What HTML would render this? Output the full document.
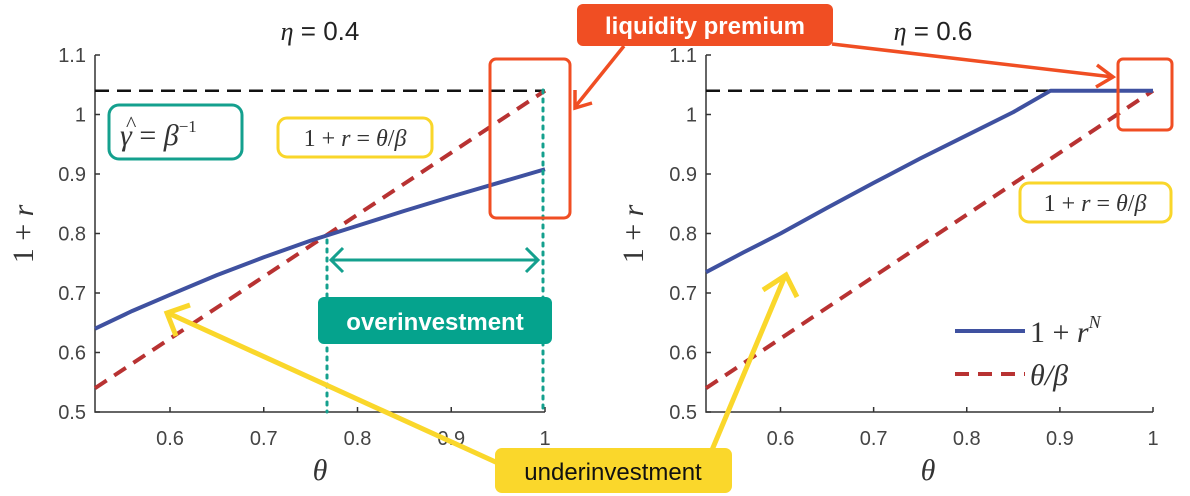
<!DOCTYPE html>
<html><head><meta charset="utf-8"><style>
body{margin:0;background:#fff;}
svg{display:block;}
.tk{font-family:"Liberation Sans",sans-serif;font-size:20px;fill:#444;}
.math{font-family:"Liberation Serif",serif;font-style:italic;}
.lbl{font-family:"Liberation Sans",sans-serif;font-weight:bold;fill:#fff;}
</style></head><body>
<svg id="chart" width="1190" height="496" viewBox="0 0 1190 496" xmlns="http://www.w3.org/2000/svg">
<g id="axes"></g>
<g id="annot">
  <text x="320" y="40" font-size="26" text-anchor="middle" font-family="Liberation Sans,sans-serif" fill="#222"><tspan font-style="italic" font-family="Liberation Serif,serif">η</tspan> = 0.4</text>
  <text x="933" y="40" font-size="26" text-anchor="middle" font-family="Liberation Sans,sans-serif" fill="#222"><tspan font-style="italic" font-family="Liberation Serif,serif">η</tspan> = 0.6</text>
  <text transform="translate(33,234) rotate(-90)" font-size="30" text-anchor="middle" font-family="Liberation Serif,serif" fill="#333">1 + <tspan font-style="italic">r</tspan></text>
  <text transform="translate(643,234) rotate(-90)" font-size="30" text-anchor="middle" font-family="Liberation Serif,serif" fill="#333">1 + <tspan font-style="italic">r</tspan></text>
  <text x="320" y="480" font-size="30" text-anchor="middle" class="math" fill="#333">θ</text>
  <text x="928" y="480" font-size="30" text-anchor="middle" class="math" fill="#333">θ</text>
  <line x1="327" y1="240" x2="327" y2="412" stroke="#14A08E" stroke-width="3" stroke-dasharray="3,6" stroke-linecap="round"/>
  <line x1="543" y1="90" x2="543" y2="412" stroke="#14A08E" stroke-width="3" stroke-dasharray="3,6" stroke-linecap="round"/>
  <g stroke="#14A08E" stroke-width="3" fill="none">
    <line x1="331" y1="260" x2="538" y2="260"/>
    <polyline points="343,248 331,260 343,272"/>
    <polyline points="526,248 538,260 526,272"/>
  </g>
  <rect x="318" y="297" width="234" height="47" rx="6" fill="#05A38D"/>
  <text x="435" y="330" font-size="24" text-anchor="middle" class="lbl">overinvestment</text>
  <rect x="109" y="105" width="133" height="54" rx="10" fill="#fff" stroke="#14A08E" stroke-width="3"/>
  <text x="120" y="145" font-size="30" font-family="Liberation Serif,serif" fill="#333"><tspan font-style="italic">γ</tspan> = <tspan font-style="italic">β</tspan><tspan font-size="17" dy="-13">−1</tspan></text>
  <text x="126" y="131" font-size="22" font-family="Liberation Serif,serif" fill="#333">^</text>
  <rect x="278" y="118" width="154" height="39" rx="9" fill="#fff" stroke="#F9D62A" stroke-width="3"/>
  <text x="355" y="146" font-size="24" text-anchor="middle" font-family="Liberation Serif,serif" fill="#333">1 + <tspan font-style="italic">r</tspan> = <tspan font-style="italic">θ</tspan>/<tspan font-style="italic">β</tspan></text>
  <rect x="1020" y="183" width="151" height="39" rx="9" fill="#fff" stroke="#F9D62A" stroke-width="3"/>
  <text x="1095" y="211" font-size="24" text-anchor="middle" font-family="Liberation Serif,serif" fill="#333">1 + <tspan font-style="italic">r</tspan> = <tspan font-style="italic">θ</tspan>/<tspan font-style="italic">β</tspan></text>
  <rect x="490" y="59" width="80" height="159" rx="6" fill="none" stroke="#F04E23" stroke-width="3"/>
  <rect x="1118" y="59" width="54" height="71" rx="5" fill="none" stroke="#F04E23" stroke-width="3"/>
  <g stroke="#F04E23" stroke-width="3.5" fill="none">
    <line x1="624" y1="46" x2="575" y2="107"/>
    <polyline points="575,90 575,108 592,103"/>
    <line x1="832" y1="44" x2="1113" y2="77"/>
    <polyline points="1097,65 1113,77 1096,87"/>
  </g>
  <rect x="577" y="4" width="256" height="42" rx="6" fill="#F04E23"/>
  <text x="705" y="34" font-size="24" text-anchor="middle" class="lbl">liquidity premium</text>
  <g stroke="#FAD72B" stroke-width="5" fill="none">
    <line x1="500" y1="464" x2="168" y2="313"/>
    <polyline points="190,305 167,313 176,336"/>
    <line x1="712" y1="450" x2="785" y2="276"/>
    <polyline points="763,290 786,275 797,297"/>
  </g>
  <rect x="495" y="448" width="237" height="45" rx="7" fill="#FAD72B"/>
  <text x="613" y="480" font-size="24" text-anchor="middle" font-family="Liberation Sans,sans-serif" fill="#111">underinvestment</text>
  <line x1="955" y1="331" x2="1025" y2="331" stroke="#3F51A0" stroke-width="4"/>
  <text x="1030" y="342" font-size="30" font-family="Liberation Serif,serif" fill="#333">1 + <tspan font-style="italic">r</tspan><tspan font-size="18" dy="-14" font-style="italic">N</tspan></text>
  <line x1="955" y1="374" x2="1025" y2="374" stroke="#B83232" stroke-width="4" stroke-dasharray="14,9"/>
  <text x="1030" y="385" font-size="30" font-family="Liberation Serif,serif" font-style="italic" fill="#333">θ/β</text>
</g>
</svg>
<script>
const xTicks=[0.6,0.7,0.8,0.9,1];
const xTickLabels=["0.6","0.7","0.8","0.9","1"];
const yTicks=[0.5,0.6,0.7,0.8,0.9,1,1.1];
const yTickLabels=["0.5","0.6","0.7","0.8","0.9","1","1.1"];
const thetaLeft=[0.52,0.56,0.6,0.65,0.7,0.75,0.8,0.85,0.9,0.95,1.0];
const blueLeft=[0.64,0.67,0.697,0.73,0.76,0.788,0.813,0.838,0.862,0.885,0.908];
const thetaRight=[0.52,0.56,0.6,0.65,0.7,0.75,0.8,0.85,0.89,0.95,1.0];
const blueRight=[0.735,0.768,0.80,0.843,0.885,0.926,0.965,1.004,1.04,1.04,1.04];
const thetaRed=[0.52,1.0];
const redVals=[0.54,1.04];
const gammaLevel=1.04;
const NS="http://www.w3.org/2000/svg";
const panels=[{x0:95,x1:545,theta:thetaLeft,blue:blueLeft,name:'left'},{x0:706,x1:1153,theta:thetaRight,blue:blueRight,name:'right'}];
const yTop=55,yBot=412,yMin=0.5,yMax=1.1,xMin=0.52,xMax=1.0;
function mk(t,a){const e=document.createElementNS(NS,t);for(const k in a)e.setAttribute(k,a[k]);return e;}
const g=document.getElementById('axes');
const ys=v=>yBot-(v-yMin)/(yMax-yMin)*(yBot-yTop);
panels.forEach(p=>{
  const xs=v=>p.x0+(v-xMin)/(xMax-xMin)*(p.x1-p.x0);
  const ax=mk('path',{d:`M${p.x0},${yTop}V${yBot}H${p.x1}`,stroke:'#333','stroke-width':1.5,fill:'none'});
  
  
  g.appendChild(ax);
  yTicks.forEach((v,i)=>{
    const y=ys(v);
    g.appendChild(mk('line',{x1:p.x0,x2:p.x0+5,y1:y,y2:y,stroke:'#333','stroke-width':1.5}));
    const t=mk('text',{x:p.x0-9,y:y+7,'text-anchor':'end',class:'tk'});
    t.textContent=yTickLabels[i];
    
    
    g.appendChild(t);
  });
  xTicks.forEach((v,i)=>{
    const x=xs(v);
    g.appendChild(mk('line',{x1:x,x2:x,y1:yBot,y2:yBot-5,stroke:'#333','stroke-width':1.5}));
    const t=mk('text',{x:x,y:yBot+33,'text-anchor':'middle',class:'tk'});
    t.textContent=xTickLabels[i];
    
    
    g.appendChild(t);
  });
  const gl=mk('line',{x1:p.x0,x2:xs(xMax),y1:ys(gammaLevel),y2:ys(gammaLevel),stroke:'#111','stroke-width':2.5,'stroke-dasharray':'14,8'});
  
  
  g.appendChild(gl);
  const rl=mk('polyline',{points:thetaRed.map((t,i)=>xs(t)+','+ys(redVals[i])).join(' '),stroke:'#B83232','stroke-width':4,fill:'none','stroke-dasharray':'14,9'});
  
  
  g.appendChild(rl);
  const bl=mk('polyline',{points:p.theta.map((t,i)=>xs(t)+','+ys(p.blue[i])).join(' '),stroke:'#3F51A0','stroke-width':4,fill:'none','stroke-linejoin':'round'});
  
  
  g.appendChild(bl);
});
</script>
</body></html>
